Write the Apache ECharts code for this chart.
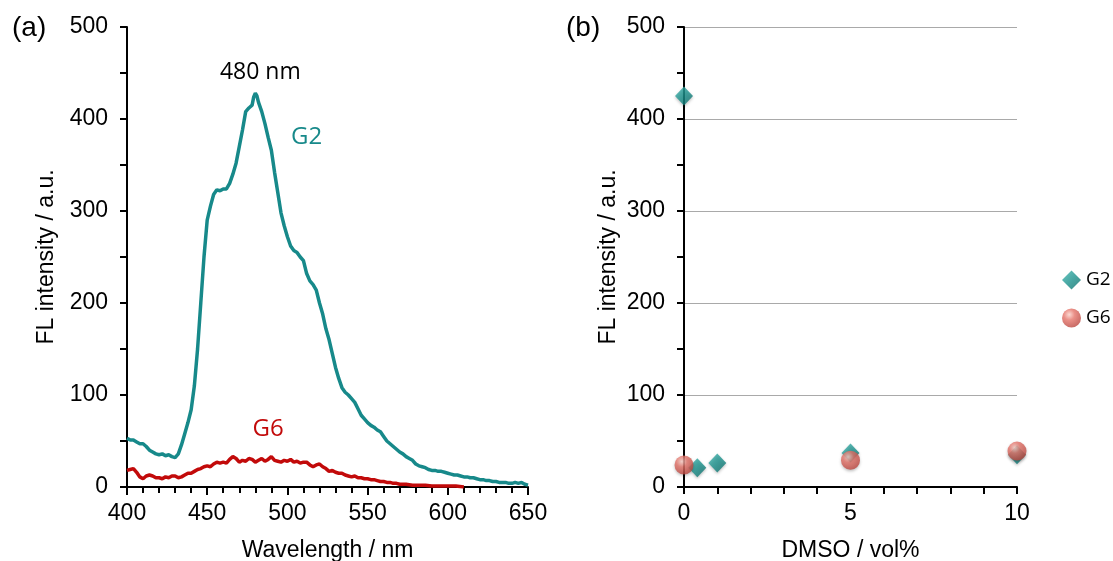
<!DOCTYPE html>
<html>
<head>
<meta charset="utf-8">
<script src="https://cdn.jsdelivr.net/npm/echarts@6/dist/echarts.min.js"></script>
<style>
  html, body { margin: 0; padding: 0; background: #fff; }
  #chart { width: 1113px; height: 561px; }
</style>
</head>
<body>
<div id="chart"></div>
<script>
// (a) emission spectra
const g2Wavelength = [400,402,404,406,408,410,412,414,416,418,420,422,424,426,428,430,432,434,436,438,440,442,444,446,448,450,452,454,456,458,460,462,464,466,468,470,472,474,476,478,479,480,481,482,484,486,488,490,492,494,496,498,500,502,504,506,508,510,512,514,516,518,520,522,524,526,528,530,532,534,536,538,540,542,544,546,548,550,552,554,556,558,560,562,564,566,568,570,572,574,576,578,580,582,584,586,588,590,592,594,596,598,600,602,604,606,608,610,612,614,616,618,620,622,624,626,628,630,632,634,636,638,640,642,644,646,648,650];
const g2Intensity = [53,51,51,49,47,47,44,40,38,36,35,36,34,35,33,32,36,46,58,70,84,110,150,200,250,290,305,318,323,322,324,324,330,340,352,370,388,408,412,415,424,428,425,418,408,395,380,366,342,320,298,284,272,262,257,255,250,246,232,224,220,214,200,188,172,160,145,130,118,108,103,100,96,92,85,78,74,70,67,65,62,60,55,50,47,44,41,38,36,33,31,29,25,23,22,21,19,18,18,17,17,16,15,14,13,13,12,11,11,10,10,9,8,8,7,7,6,6,5,5,5,4,4,5,4,5,3,2];

const g6Wavelength = [400,402,404,406,408,410,412,414,416,418,420,422,424,426,428,430,432,434,436,438,440,442,444,446,448,450,452,454,456,458,460,462,464,466,468,470,472,474,476,478,480,482,484,486,488,490,492,494,496,498,500,502,504,506,508,510,512,514,516,518,520,522,524,526,528,530,532,534,536,538,540,542,544,546,548,550,552,554,556,558,560,562,564,566,568,570,574,578,582,586,590,595,600,605,610];
const g6Intensity = [18,19,20,16,11,9,12,13,12,10,10,9,11,10,12,12,10,11,13,15,15,17,19,20,22,23,22,25,27,26,27,26,30,33,31,27,29,28,31,30,27,29,31,28,30,33,29,28,27,29,28,30,27,28,26,27,27,24,22,24,25,22,20,17,18,16,15,15,13,12,11,12,10,10,9,9,8,8,7,6,6,5,5,4,4,3,3,2,2,2,1,1,1,1,0];

// (b) intensity against DMSO content
const g2Dmso = [0, 0.4, 1, 5, 10];
const g2Fl = [425, 21, 26, 37, 35];
const g6Dmso = [0, 5, 10];
const g6Fl = [24, 29, 39];

const peakWavelength = 480;
const peakIntensity = 428;

const yTicks = [0, 100, 200, 300, 400, 500];

const tealLine = '#17898a';
const redLine = '#c20a0a';
const axisFont = 'Liberation Sans, Arial, sans-serif';
const labelFont = 'Open Sans, sans-serif';

const zip = (xs, ys) => xs.map((x, i) => [x, ys[i]]);

const chart = echarts.init(document.getElementById('chart'), null, { renderer: 'canvas' });

const axisCommon = {
  axisLine: { show: true, onZero: false, lineStyle: { color: '#000', width: 2 } },
  axisLabel: { color: '#000', fontSize: 23, fontFamily: axisFont },
  nameTextStyle: { color: '#000', fontSize: 23, fontFamily: axisFont },
  nameLocation: 'middle'
};

const yAxisBase = (gridIndex, nameGap, showGrid) => Object.assign({}, axisCommon, {
  type: 'value', gridIndex, min: yTicks[0], max: yTicks[yTicks.length - 1], interval: 100,
  name: 'FL intensity / a.u.', nameGap,
  axisTick: { show: true, inside: false, length: 7, lineStyle: { color: '#000', width: 2 } },
  minorTick: { show: true, splitNumber: 2, length: 7, lineStyle: { color: '#000', width: 2 } },
  axisLabel: Object.assign({}, axisCommon.axisLabel, { margin: 19 }),
  splitLine: { show: showGrid, lineStyle: { color: '#a9a9a9', width: 1 } }
});

const sphere = new echarts.graphic.RadialGradient(0.38, 0.32, 0.72, [
  { offset: 0, color: '#fbd0c8' },
  { offset: 0.4, color: '#e5746a' },
  { offset: 1, color: '#b9443d' }
]);
const diamond = new echarts.graphic.LinearGradient(0, 0, 1, 1, [
  { offset: 0, color: '#45b8b2' },
  { offset: 0.5, color: '#1a918c' },
  { offset: 1, color: '#0d6a67' }
]);

chart.setOption({
  animation: false,
  backgroundColor: '#fff',
  grid: [
    { left: 127, right: 585, top: 27, bottom: 74, outerBoundsMode: 'none', containLabel: false },
    { left: 684, right: 96, top: 27, bottom: 74, outerBoundsMode: 'none', containLabel: false }
  ],
  xAxis: [
    Object.assign({}, axisCommon, {
      type: 'value', gridIndex: 0, min: 400, max: 650, interval: 50,
      name: 'Wavelength / nm', nameGap: 52,
      axisTick: { show: true, inside: false, length: 8, lineStyle: { color: '#000', width: 2 } },
      minorTick: { show: true, splitNumber: 5, length: 6, lineStyle: { color: '#000', width: 2 } },
      axisLabel: Object.assign({}, axisCommon.axisLabel, { margin: 15 }),
      splitLine: { show: false }
    }),
    Object.assign({}, axisCommon, {
      type: 'value', gridIndex: 1, min: 0, max: 10, interval: 5,
      name: 'DMSO / vol%', nameGap: 52,
      axisTick: { show: true, inside: false, length: 7, lineStyle: { color: '#000', width: 2 } },
      minorTick: { show: true, splitNumber: 5, length: 7, lineStyle: { color: '#000', width: 2 } },
      axisLabel: Object.assign({}, axisCommon.axisLabel, { margin: 15 }),
      splitLine: { show: false }
    })
  ],
  yAxis: [
    yAxisBase(0, 69, false),
    yAxisBase(1, 64, true)
  ],
  legend: {
    orient: 'vertical', left: 1057, top: 265,
    itemWidth: 19, itemHeight: 19, itemGap: 18,
    data: ['G2', 'G6'],
    textStyle: { color: '#000', fontSize: 19, fontFamily: labelFont, lineHeight: 20 }
  },
  series: [
    {
      name: 'G2 spectrum', type: 'line', xAxisIndex: 0, yAxisIndex: 0,
      data: zip(g2Wavelength, g2Intensity), showSymbol: false, smooth: false,
      lineStyle: { color: tealLine, width: 3.5 }, itemStyle: { color: tealLine },
      markPoint: {
        symbol: 'circle', symbolSize: 0,
        data: [
          { coord: [peakWavelength, peakIntensity],
            label: { show: true, formatter: peakWavelength + ' nm', position: 'top', distance: 9, offset: [5, 0],
              color: '#000', fontSize: 23, fontFamily: labelFont } },
          { coord: [512, 380],
            label: { show: true, formatter: 'G2', position: 'inside',
              color: tealLine, fontSize: 24, fontFamily: labelFont } }
        ]
      }
    },
    {
      name: 'G6 spectrum', type: 'line', xAxisIndex: 0, yAxisIndex: 0,
      data: zip(g6Wavelength, g6Intensity), showSymbol: false, smooth: false,
      lineStyle: { color: redLine, width: 3.5 }, itemStyle: { color: redLine },
      markPoint: {
        symbol: 'circle', symbolSize: 0,
        data: [
          { coord: [488, 63],
            label: { show: true, formatter: 'G6', position: 'inside',
              color: redLine, fontSize: 24, fontFamily: labelFont } }
        ]
      }
    },
    {
      name: 'G2', type: 'scatter', xAxisIndex: 1, yAxisIndex: 1, clip: false,
      data: zip(g2Dmso, g2Fl), symbol: 'diamond', symbolSize: [18, 19],
      itemStyle: { color: diamond, shadowBlur: 3, shadowColor: 'rgba(0,0,0,0.3)', shadowOffsetY: 1.5 },
      z: 3
    },
    {
      name: 'G6', type: 'scatter', xAxisIndex: 1, yAxisIndex: 1, clip: false,
      data: zip(g6Dmso, g6Fl), symbol: 'circle', symbolSize: 19,
      itemStyle: { color: sphere, shadowBlur: 3, shadowColor: 'rgba(0,0,0,0.3)', shadowOffsetY: 1.5 },
      z: 4
    }
  ],
  graphic: [
    { type: 'text', left: 12, top: 14, style: { text: '(a)', fontSize: 28, fontFamily: axisFont, fill: '#000' } },
    { type: 'text', left: 566, top: 14, style: { text: '(b)', fontSize: 28, fontFamily: axisFont, fill: '#000' } }
  ]
});
</script>
</body>
</html>
